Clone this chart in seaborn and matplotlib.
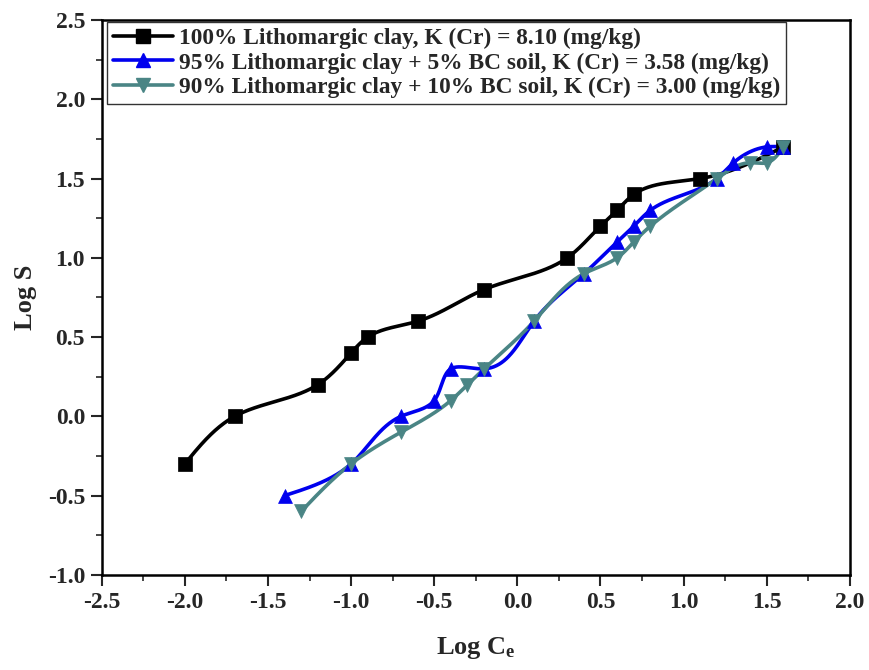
import numpy as np
import pandas as pd
import matplotlib
matplotlib.use("Agg")
import matplotlib.pyplot as plt
from matplotlib.lines import Line2D
from matplotlib.ticker import MultipleLocator
import seaborn as sns

# ---- data ----
x100 = [-2.0, -1.7, -1.2, -1.0, -0.9, -0.6, -0.2, 0.3, 0.5, 0.6, 0.7, 1.1, 1.6]
y100 = [-0.3, 0.0, 0.2, 0.4, 0.5, 0.6, 0.8, 1.0, 1.2, 1.3, 1.4, 1.5, 1.7]
x95 = [-1.4, -1.0, -0.7, -0.5, -0.4, -0.2, 0.1, 0.4, 0.6, 0.7, 0.8, 1.2, 1.3, 1.5, 1.6]
y95 = [-0.5, -0.3, 0.0, 0.1, 0.3, 0.3, 0.6, 0.9, 1.1, 1.2, 1.3, 1.5, 1.6, 1.7, 1.7]
x90 = [-1.3, -1.0, -0.7, -0.4, -0.3, -0.2, 0.1, 0.4, 0.6, 0.7, 0.8, 1.2, 1.4, 1.5, 1.6]
y90 = [-0.6, -0.3, -0.1, 0.1, 0.2, 0.3, 0.6, 0.9, 1.0, 1.1, 1.2, 1.5, 1.6, 1.6, 1.7]
labels = ["100% Lithomargic clay, K (Cr) = 8.10 (mg/kg)",
          "95% Lithomargic clay + 5% BC soil, K (Cr) = 3.58 (mg/kg)",
          "90% Lithomargic clay + 10% BC soil, K (Cr) = 3.00 (mg/kg)"]
colors = ["#000000", "#0000ee", "#4a8585"]
markers = ["s", "^", "v"]
xticks = [-2.5, -2.0, -1.5, -1.0, -0.5, 0.0, 0.5, 1.0, 1.5, 2.0]
yticks = [-1.0, -0.5, 0.0, 0.5, 1.0, 1.5, 2.0, 2.5]


def natural_spline(t, v, tt):
    n = len(t)
    h = np.diff(t)
    A = np.zeros((n, n))
    r = np.zeros(n)
    A[0, 0] = A[-1, -1] = 1.0
    for i in range(1, n - 1):
        A[i, i - 1] = h[i - 1]
        A[i, i] = 2 * (h[i - 1] + h[i])
        A[i, i + 1] = h[i]
        r[i] = 3 * ((v[i + 1] - v[i]) / h[i] - (v[i] - v[i - 1]) / h[i - 1])
    c = np.linalg.solve(A, r)
    b = (v[1:] - v[:-1]) / h - h * (2 * c[:-1] + c[1:]) / 3
    d = (c[1:] - c[:-1]) / (3 * h)
    idx = np.clip(np.searchsorted(t, tt, side="right") - 1, 0, n - 2)
    dt = tt - t[idx]
    return v[idx] + b[idx] * dt + c[idx] * dt ** 2 + d[idx] * dt ** 3


def smooth(xs, ys, n=600):
    """Parametric natural cubic spline (chord-length) through the points."""
    x = np.asarray(xs, float)
    y = np.asarray(ys, float)
    t = np.concatenate([[0], np.cumsum(np.hypot(np.diff(x), np.diff(y)))])
    tt = np.linspace(0, t[-1], n)
    return natural_spline(t, x, tt), natural_spline(t, y, tt)


sns.set_theme(style="ticks")
plt.rcParams["font.family"] = ["Liberation Serif", "DejaVu Serif"]
plt.rcParams["font.weight"] = "bold"
plt.rcParams["mathtext.fontset"] = "custom"
plt.rcParams["mathtext.rm"] = "Liberation Serif:bold"
plt.rcParams["mathtext.it"] = "Liberation Serif:bold"

fig = plt.figure(figsize=(8.69, 6.70), dpi=100)
ax = fig.add_axes([0.117, 0.142, 0.861, 0.828])

series = [(x100, y100), (x95, y95), (x90, y90)]
handles = []
for (xs, ys), c, m, lab in zip(series, colors, markers, labels):
    sx, sy = smooth(xs, ys)
    df_line = pd.DataFrame({"x": sx, "y": sy})
    sns.lineplot(data=df_line, x="x", y="y", sort=False, estimator=None,
                 color=c, linewidth=2.6, ax=ax, legend=False)
    df_pts = pd.DataFrame({"x": xs, "y": ys})
    sns.scatterplot(data=df_pts, x="x", y="y", marker=m, color=c, s=100,
                    edgecolor=c, linewidth=0.5, ax=ax, legend=False, zorder=3)
    handles.append(Line2D([], [], color=c, marker=m, markersize=10,
                          linewidth=2.6, label=lab))

ax.set_xlim(-2.5, 2.0)
ax.set_ylim(-1.0, 2.5)
ax.set_xticks(xticks)
ax.set_yticks(yticks)
ax.set_xticklabels([f"{v:.1f}" for v in xticks])
ax.set_yticklabels([f"{v:.1f}" for v in yticks])
ax.xaxis.set_minor_locator(MultipleLocator(0.25))
ax.yaxis.set_minor_locator(MultipleLocator(0.25))
ax.tick_params(which="major", direction="out", length=8, width=1.5,
               labelsize=17, pad=4, top=False, right=False)
ax.tick_params(which="minor", direction="out", length=4, width=1.2,
               top=False, right=False)
for lab in ax.get_xticklabels() + ax.get_yticklabels():
    lab.set_fontweight("bold")
for sp in ax.spines.values():
    sp.set_visible(True)
    sp.set_linewidth(1.8)
    sp.set_color("black")

ax.set_xlabel(r"Log C$_\mathrm{e}$", fontsize=19, fontweight="bold", labelpad=16)
ax.set_ylabel("Log S", fontsize=19, fontweight="bold", labelpad=8)

leg = ax.legend(handles=handles, loc="upper left", bbox_to_anchor=(0.007, 0.997),
                borderaxespad=0, fancybox=False, frameon=True, handlelength=2.6,
                handletextpad=0.25, labelspacing=0.14, borderpad=0.25,
                prop={"family": "Liberation Serif", "weight": "bold", "size": 16.8})
leg.get_frame().set_edgecolor("black")
leg.get_frame().set_linewidth(1.0)

fig.savefig("out.png", dpi=100)
